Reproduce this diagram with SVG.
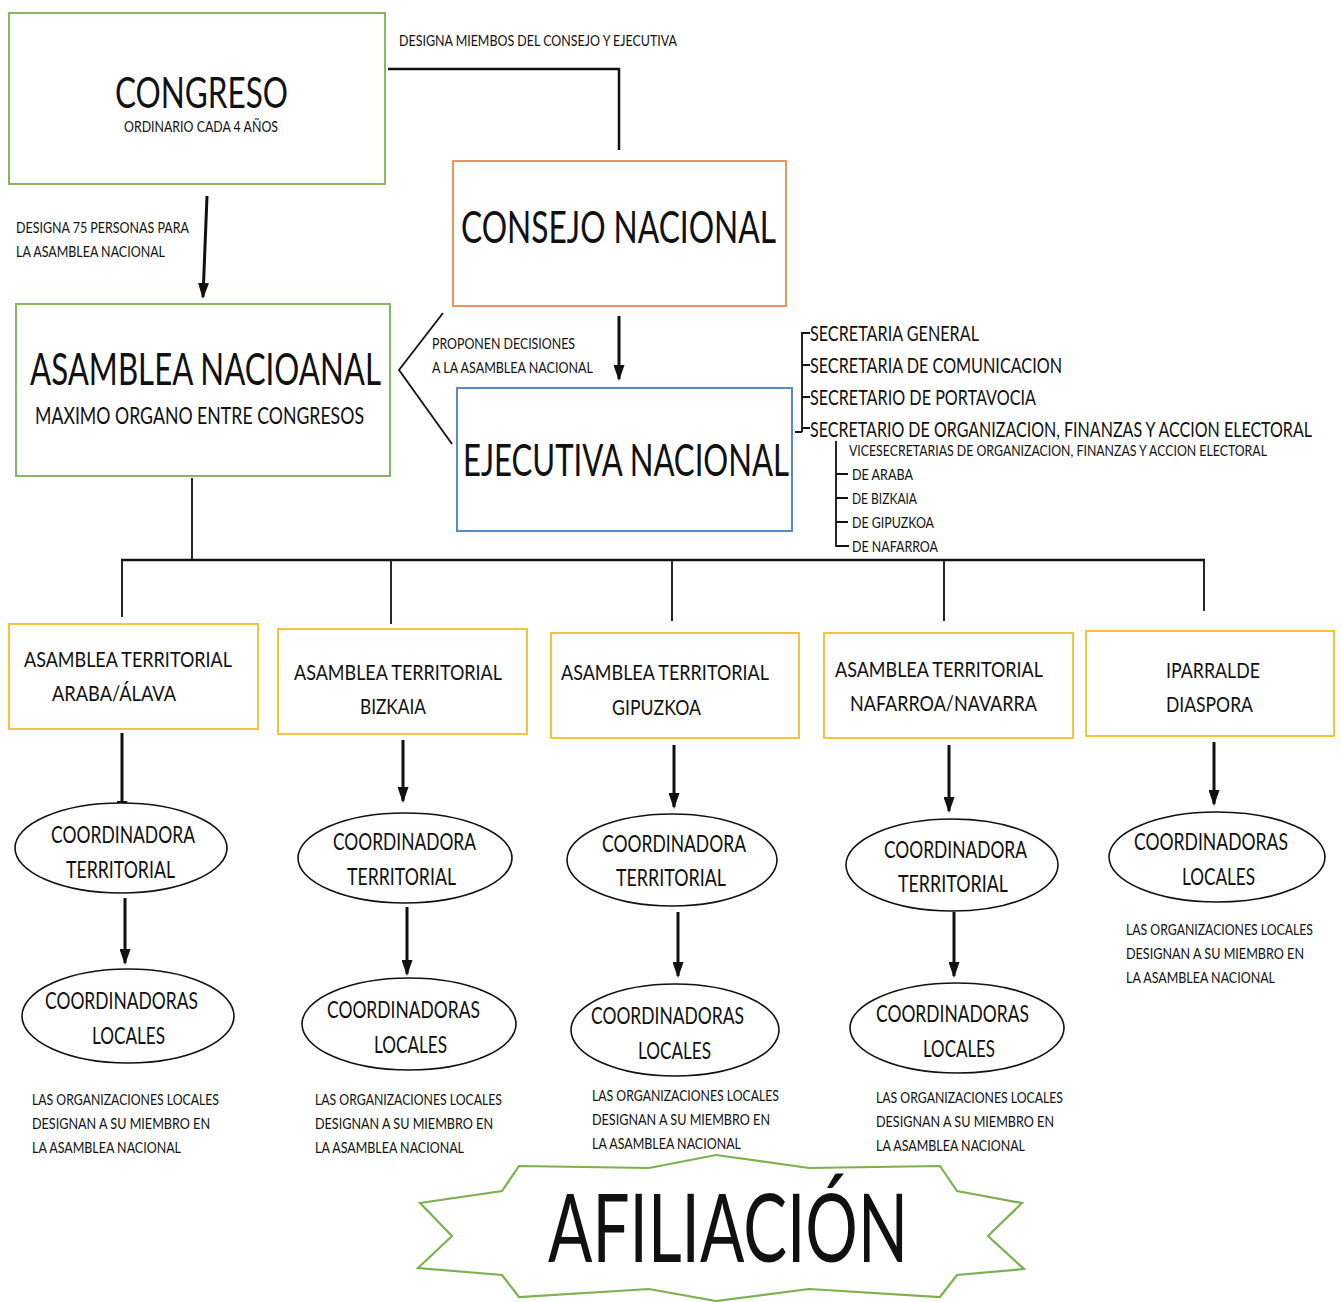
<svg xmlns="http://www.w3.org/2000/svg" width="1341" height="1302" viewBox="0 0 1341 1302">
<style>
text{font-family:"Lato","Open Sans",sans-serif;fill:#111}
.g{fill:#fff;stroke:#8AB661;stroke-width:2}
.o{fill:#fff;stroke:#E9955E;stroke-width:2}
.b{fill:#fff;stroke:#5A87C8;stroke-width:2}
.y{fill:#fff;stroke:#F5C43A;stroke-width:2}
.e{fill:#fff;stroke:#111;stroke-width:1.6}
.ln{fill:none;stroke:#111;stroke-width:2.5}
.th{fill:none;stroke:#111;stroke-width:1.8}
.ar{fill:none;stroke:#111;stroke-width:3;marker-end:url(#ah)}
.s15{font-size:10.2px}
.s21{font-size:14.3px}
.s23{font-size:15.6px}
.s24{font-size:16.3px}
.s43{font-size:29.2px}
.s45{font-size:30.6px}
.s95{font-size:64.6px}
</style>
<defs>
<marker id="ah" viewBox="0 0 16 11" refX="14" refY="5.5" markerWidth="16" markerHeight="11" markerUnits="userSpaceOnUse" orient="auto">
<path d="M0,0 L16,5.5 L0,11 z" fill="#111"/>
</marker>
</defs>
<rect width="1341" height="1302" fill="#fff"/>

<g id="connectors">
<path class="ln" d="M388,69 H619 V150"/>
<path class="ar" d="M207,196 L203,297"/>
<path class="th" d="M443,313 L399,370 L452,444"/>
<path class="ar" d="M619,316 V379"/>
<path class="th" d="M192,478 V560"/>
<path class="ln" d="M121,560 H1205"/>
<path class="th" d="M122,560 V617 M391,560 V624 M672,560 V621 M944,560 V621 M1204,560 V611"/>
<path class="ar" d="M122,733 V815"/>
<path class="ar" d="M403,740 V801"/>
<path class="ar" d="M674,745 V807"/>
<path class="ar" d="M949,745 V811"/>
<path class="ar" d="M1214,742 V804"/>
<path class="ar" d="M125,898 V963"/>
<path class="ar" d="M407,907 V974"/>
<path class="ar" d="M678,912 V976"/>
<path class="ar" d="M954,912 V976"/>
<path class="th" d="M810,333 H802 V432 M802,365 H810 M802,397 H810 M802,428 H810 M802,432 H795"/>
<path class="th" d="M836,441 V547 M836,474 H848 M836,498 H848 M836,522 H848 M836,546 H849"/>
</g>

<g id="congreso">
<rect class="g" x="9" y="13" width="376" height="171"/>
<text class="s43" transform="translate(115,108) scale(1,1.47)" textLength="173" lengthAdjust="spacingAndGlyphs">CONGRESO</text>
<text class="s15" transform="translate(124,132) scale(1,1.47)" textLength="154" lengthAdjust="spacingAndGlyphs">ORDINARIO CADA 4 AÑOS</text>
</g>

<g id="label-designa-miembros">
<text class="s15" transform="translate(399,46) scale(1,1.47)" textLength="278" lengthAdjust="spacingAndGlyphs">DESIGNA MIEMBOS DEL CONSEJO Y EJECUTIVA</text>
</g>

<g id="label-designa-75">
<text class="s15" transform="translate(16,233) scale(1,1.47)" textLength="173" lengthAdjust="spacingAndGlyphs">DESIGNA 75 PERSONAS PARA</text>
<text class="s15" transform="translate(16,257) scale(1,1.47)" textLength="149" lengthAdjust="spacingAndGlyphs">LA ASAMBLEA NACIONAL</text>
</g>

<g id="consejo-nacional">
<rect class="o" x="453" y="161" width="333" height="145"/>
<text class="s45" transform="translate(461,243) scale(1,1.47)" textLength="315" lengthAdjust="spacingAndGlyphs">CONSEJO NACIONAL</text>
</g>

<g id="asamblea-nacional">
<rect class="g" x="16" y="304" width="374" height="172"/>
<text class="s45" transform="translate(30,385) scale(1,1.47)" textLength="351" lengthAdjust="spacingAndGlyphs">ASAMBLEA NACIOANAL</text>
<text class="s24" transform="translate(35,424) scale(1,1.47)" textLength="329" lengthAdjust="spacingAndGlyphs">MAXIMO ORGANO ENTRE CONGRESOS</text>
</g>

<g id="label-proponen">
<text class="s15" transform="translate(432,349) scale(1,1.47)" textLength="143" lengthAdjust="spacingAndGlyphs">PROPONEN DECISIONES</text>
<text class="s15" transform="translate(432,373) scale(1,1.47)" textLength="161" lengthAdjust="spacingAndGlyphs">A LA ASAMBLEA NACIONAL</text>
</g>

<g id="ejecutiva-nacional">
<rect class="b" x="457" y="388" width="335" height="143"/>
<text class="s45" transform="translate(463,476) scale(1,1.47)" textLength="326" lengthAdjust="spacingAndGlyphs">EJECUTIVA NACIONAL</text>
</g>

<g id="secretarias">
<text class="s21" transform="translate(810,341) scale(1,1.47)" textLength="169" lengthAdjust="spacingAndGlyphs">SECRETARIA GENERAL</text>
<text class="s21" transform="translate(810,373) scale(1,1.47)" textLength="252" lengthAdjust="spacingAndGlyphs">SECRETARIA DE COMUNICACION</text>
<text class="s21" transform="translate(810,405) scale(1,1.47)" textLength="226" lengthAdjust="spacingAndGlyphs">SECRETARIO DE PORTAVOCIA</text>
<text class="s21" transform="translate(810,437) scale(1,1.47)" textLength="502" lengthAdjust="spacingAndGlyphs">SECRETARIO DE ORGANIZACION, FINANZAS Y ACCION ELECTORAL</text>
<text class="s15" transform="translate(849,456) scale(1,1.47)" textLength="418" lengthAdjust="spacingAndGlyphs">VICESECRETARIAS DE ORGANIZACION, FINANZAS Y ACCION ELECTORAL</text>
<text class="s15" transform="translate(852,480) scale(1,1.47)" textLength="61" lengthAdjust="spacingAndGlyphs">DE ARABA</text>
<text class="s15" transform="translate(852,504) scale(1,1.47)" textLength="65" lengthAdjust="spacingAndGlyphs">DE BIZKAIA</text>
<text class="s15" transform="translate(852,528) scale(1,1.47)" textLength="82" lengthAdjust="spacingAndGlyphs">DE GIPUZKOA</text>
<text class="s15" transform="translate(852,552) scale(1,1.47)" textLength="86" lengthAdjust="spacingAndGlyphs">DE NAFARROA</text>
</g>

<g id="asamblea-araba">
<rect class="y" x="9" y="624" width="249" height="105"/>
<text class="s21" transform="translate(24,667) scale(1,1.47)" textLength="208" lengthAdjust="spacingAndGlyphs">ASAMBLEA TERRITORIAL</text>
<text class="s21" transform="translate(52,701) scale(1,1.47)" textLength="124" lengthAdjust="spacingAndGlyphs">ARABA/ÁLAVA</text>
</g>
<g id="asamblea-bizkaia">
<rect class="y" x="278" y="629" width="249" height="105"/>
<text class="s21" transform="translate(294,680) scale(1,1.47)" textLength="208" lengthAdjust="spacingAndGlyphs">ASAMBLEA TERRITORIAL</text>
<text class="s21" transform="translate(360,714) scale(1,1.47)" textLength="66" lengthAdjust="spacingAndGlyphs">BIZKAIA</text>
</g>
<g id="asamblea-gipuzkoa">
<rect class="y" x="551" y="633" width="248" height="105"/>
<text class="s21" transform="translate(561,680) scale(1,1.47)" textLength="208" lengthAdjust="spacingAndGlyphs">ASAMBLEA TERRITORIAL</text>
<text class="s21" transform="translate(612,715) scale(1,1.47)" textLength="89" lengthAdjust="spacingAndGlyphs">GIPUZKOA</text>
</g>
<g id="asamblea-nafarroa">
<rect class="y" x="824" y="633" width="249" height="105"/>
<text class="s21" transform="translate(835,677) scale(1,1.47)" textLength="208" lengthAdjust="spacingAndGlyphs">ASAMBLEA TERRITORIAL</text>
<text class="s21" transform="translate(850,711) scale(1,1.47)" textLength="187" lengthAdjust="spacingAndGlyphs">NAFARROA/NAVARRA</text>
</g>
<g id="iparralde">
<rect class="y" x="1086" y="631" width="248" height="105"/>
<text class="s21" transform="translate(1166,678) scale(1,1.47)" textLength="94" lengthAdjust="spacingAndGlyphs">IPARRALDE</text>
<text class="s21" transform="translate(1166,712) scale(1,1.47)" textLength="87" lengthAdjust="spacingAndGlyphs">DIASPORA</text>
</g>

<g id="coord-territorial-araba">
<ellipse class="e" cx="121" cy="848" rx="106" ry="45"/>
<text class="s23" transform="translate(51,843) scale(1,1.47)" textLength="144" lengthAdjust="spacingAndGlyphs">COORDINADORA</text>
<text class="s23" transform="translate(66,878) scale(1,1.47)" textLength="109" lengthAdjust="spacingAndGlyphs">TERRITORIAL</text>
</g>
<g id="coord-territorial-bizkaia">
<ellipse class="e" cx="405" cy="858" rx="107" ry="45"/>
<text class="s23" transform="translate(333,850) scale(1,1.47)" textLength="143" lengthAdjust="spacingAndGlyphs">COORDINADORA</text>
<text class="s23" transform="translate(347,885) scale(1,1.47)" textLength="109" lengthAdjust="spacingAndGlyphs">TERRITORIAL</text>
</g>
<g id="coord-territorial-gipuzkoa">
<ellipse class="e" cx="672" cy="860" rx="105" ry="46"/>
<text class="s23" transform="translate(602,852) scale(1,1.47)" textLength="144" lengthAdjust="spacingAndGlyphs">COORDINADORA</text>
<text class="s23" transform="translate(616,886) scale(1,1.47)" textLength="110" lengthAdjust="spacingAndGlyphs">TERRITORIAL</text>
</g>
<g id="coord-territorial-nafarroa">
<ellipse class="e" cx="952" cy="865" rx="106" ry="46"/>
<text class="s23" transform="translate(884,858) scale(1,1.47)" textLength="143" lengthAdjust="spacingAndGlyphs">COORDINADORA</text>
<text class="s23" transform="translate(898,892) scale(1,1.47)" textLength="110" lengthAdjust="spacingAndGlyphs">TERRITORIAL</text>
</g>
<g id="coord-locales-iparralde">
<ellipse class="e" cx="1217" cy="857" rx="108" ry="45"/>
<text class="s23" transform="translate(1134,850) scale(1,1.47)" textLength="154" lengthAdjust="spacingAndGlyphs">COORDINADORAS</text>
<text class="s23" transform="translate(1182,885) scale(1,1.47)" textLength="73" lengthAdjust="spacingAndGlyphs">LOCALES</text>
</g>

<g id="coord-locales-araba">
<ellipse class="e" cx="128" cy="1016" rx="106" ry="47"/>
<text class="s23" transform="translate(45,1009) scale(1,1.47)" textLength="153" lengthAdjust="spacingAndGlyphs">COORDINADORAS</text>
<text class="s23" transform="translate(92,1044) scale(1,1.47)" textLength="73" lengthAdjust="spacingAndGlyphs">LOCALES</text>
</g>
<g id="coord-locales-bizkaia">
<ellipse class="e" cx="409" cy="1024" rx="107" ry="46"/>
<text class="s23" transform="translate(327,1018) scale(1,1.47)" textLength="153" lengthAdjust="spacingAndGlyphs">COORDINADORAS</text>
<text class="s23" transform="translate(374,1053) scale(1,1.47)" textLength="73" lengthAdjust="spacingAndGlyphs">LOCALES</text>
</g>
<g id="coord-locales-gipuzkoa">
<ellipse class="e" cx="675" cy="1030" rx="104" ry="46"/>
<text class="s23" transform="translate(591,1024) scale(1,1.47)" textLength="153" lengthAdjust="spacingAndGlyphs">COORDINADORAS</text>
<text class="s23" transform="translate(638,1059) scale(1,1.47)" textLength="73" lengthAdjust="spacingAndGlyphs">LOCALES</text>
</g>
<g id="coord-locales-nafarroa">
<ellipse class="e" cx="957" cy="1028" rx="107" ry="45"/>
<text class="s23" transform="translate(876,1022) scale(1,1.47)" textLength="153" lengthAdjust="spacingAndGlyphs">COORDINADORAS</text>
<text class="s23" transform="translate(923,1057) scale(1,1.47)" textLength="72" lengthAdjust="spacingAndGlyphs">LOCALES</text>
</g>

<g id="nota-araba">
<text class="s15" transform="translate(32,1105) scale(1,1.47)" textLength="187" lengthAdjust="spacingAndGlyphs">LAS ORGANIZACIONES LOCALES</text>
<text class="s15" transform="translate(32,1129) scale(1,1.47)" textLength="178" lengthAdjust="spacingAndGlyphs">DESIGNAN A SU MIEMBRO EN</text>
<text class="s15" transform="translate(32,1153) scale(1,1.47)" textLength="149" lengthAdjust="spacingAndGlyphs">LA ASAMBLEA NACIONAL</text>
</g>
<g id="nota-bizkaia">
<text class="s15" transform="translate(315,1105) scale(1,1.47)" textLength="187" lengthAdjust="spacingAndGlyphs">LAS ORGANIZACIONES LOCALES</text>
<text class="s15" transform="translate(315,1129) scale(1,1.47)" textLength="178" lengthAdjust="spacingAndGlyphs">DESIGNAN A SU MIEMBRO EN</text>
<text class="s15" transform="translate(315,1153) scale(1,1.47)" textLength="149" lengthAdjust="spacingAndGlyphs">LA ASAMBLEA NACIONAL</text>
</g>
<g id="nota-gipuzkoa">
<text class="s15" transform="translate(592,1101) scale(1,1.47)" textLength="187" lengthAdjust="spacingAndGlyphs">LAS ORGANIZACIONES LOCALES</text>
<text class="s15" transform="translate(592,1125) scale(1,1.47)" textLength="178" lengthAdjust="spacingAndGlyphs">DESIGNAN A SU MIEMBRO EN</text>
<text class="s15" transform="translate(592,1149) scale(1,1.47)" textLength="149" lengthAdjust="spacingAndGlyphs">LA ASAMBLEA NACIONAL</text>
</g>
<g id="nota-nafarroa">
<text class="s15" transform="translate(876,1103) scale(1,1.47)" textLength="187" lengthAdjust="spacingAndGlyphs">LAS ORGANIZACIONES LOCALES</text>
<text class="s15" transform="translate(876,1127) scale(1,1.47)" textLength="178" lengthAdjust="spacingAndGlyphs">DESIGNAN A SU MIEMBRO EN</text>
<text class="s15" transform="translate(876,1151) scale(1,1.47)" textLength="149" lengthAdjust="spacingAndGlyphs">LA ASAMBLEA NACIONAL</text>
</g>
<g id="nota-iparralde">
<text class="s15" transform="translate(1126,935) scale(1,1.47)" textLength="187" lengthAdjust="spacingAndGlyphs">LAS ORGANIZACIONES LOCALES</text>
<text class="s15" transform="translate(1126,959) scale(1,1.47)" textLength="178" lengthAdjust="spacingAndGlyphs">DESIGNAN A SU MIEMBRO EN</text>
<text class="s15" transform="translate(1126,983) scale(1,1.47)" textLength="149" lengthAdjust="spacingAndGlyphs">LA ASAMBLEA NACIONAL</text>
</g>

<g id="afiliacion">
<polygon fill="#fff" stroke="#7DB04E" stroke-width="2.2" points="420,1203 502,1191 519,1166 649,1168 716,1155 809,1168 940,1166 957,1191 1022,1203 988,1236 1024,1269 957,1275 940,1297 809,1289 716,1301 649,1289 519,1297 502,1275 418,1268 452,1236"/>
<text class="s95" transform="translate(548,1262) scale(1,1.47)" textLength="360" lengthAdjust="spacingAndGlyphs">AFILIACIÓN</text>
</g>
</svg>
